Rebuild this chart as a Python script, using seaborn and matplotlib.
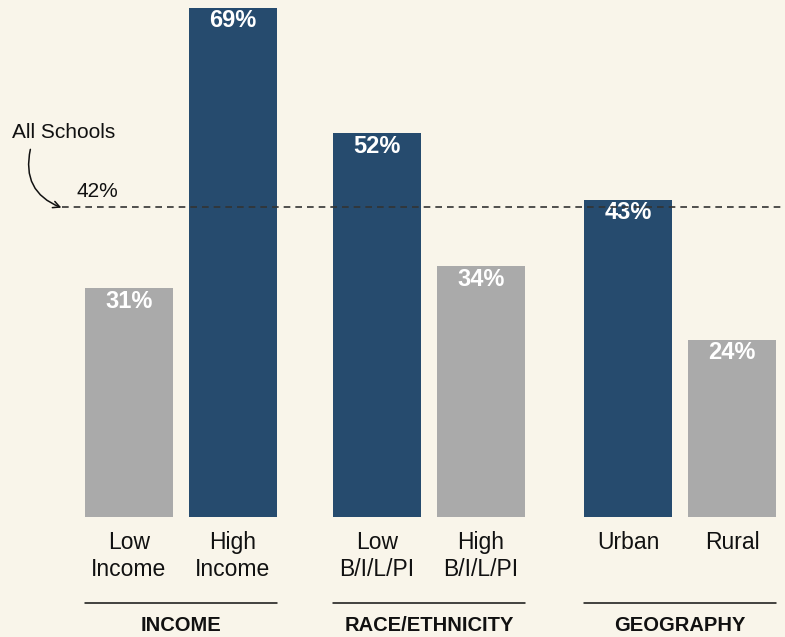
import matplotlib
matplotlib.use("Agg")
import matplotlib.pyplot as plt
import seaborn as sns
import pandas as pd

# Data
labels = ["Low\nIncome", "High\nIncome", "Low\nB/I/L/PI", "High\nB/I/L/PI", "Urban", "Rural"]
values = [31, 69, 52, 34, 43, 24]
levels = ["low", "high", "high", "low", "high", "low"]
positions = [0, 1, 2.385, 3.385, 4.798, 5.798]
groups = ["INCOME", "RACE/ETHNICITY", "GEOGRAPHY"]
all_schools = 42

bg = "#f9f5ea"
navy = "#264b6e"
grey = "#aaaaaa"

sns.set_theme(style="white")
plt.rcParams["font.family"] = ["Liberation Sans", "DejaVu Sans"]

df = pd.DataFrame({"pos": positions, "value": values, "level": levels})

fig = plt.figure(figsize=(7.85, 6.37), dpi=100, facecolor=bg)
ax = fig.add_axes([0, 120 / 637, 1, 517 / 637])
ax.set_facecolor(bg)

width = 0.846
sns.barplot(data=df, x="pos", y="value", hue="level", palette={"low": grey, "high": navy},
            native_scale=True, width=width, legend=False, ax=ax, saturation=1,
            linewidth=0)

ax.set_xlim(-1.240, 6.308)
ax.set_ylim(0, 70.08)
for s in ax.spines.values():
    s.set_visible(False)
ax.set_yticks([])
ax.set_xticks(positions)
ax.set_xticklabels(labels, fontsize=16.5, color="#111111", linespacing=1.25)
ax.tick_params(axis="x", length=0, pad=10)
ax.set_xlabel("")
ax.set_ylabel("")

# value labels
for p, v in zip(positions, values):
    ax.text(p, v - 1.75, f"{v}%", ha="center", va="center", color="white",
            fontsize=17, fontweight="bold")

# average line
ax.axhline(all_schools, xmin=62 / 785, xmax=1, color="#333333", lw=1.2,
           ls=(0, (4, 3)), zorder=5)
ax.text(-0.500, all_schools + 2.15, f"{all_schools}%", ha="left", va="center",
        fontsize=15, color="#111111")
ax.text(-1.125, 52.15, "All Schools", ha="left", va="center", fontsize=15, color="#111111")
ax.annotate("", xy=(-0.625, all_schools - 0.2), xytext=(-0.942, 50.2),
            arrowprops=dict(arrowstyle="->", color="#111111", lw=1.1,
                            connectionstyle="arc3,rad=0.45"))

# group brackets
trans = ax.get_xaxis_transform()
for i, g in enumerate(groups):
    x0 = positions[2 * i] - width / 2
    x1 = positions[2 * i + 1] + width / 2
    ax.plot([x0, x1], [-0.1663, -0.1663], transform=trans, color="#111111",
            lw=1.1, clip_on=False)
    ax.text((x0 + x1) / 2, -0.210, g, transform=trans, ha="center", va="center",
            fontsize=14.5, fontweight="bold", color="#111111")

fig.savefig("out.png", dpi=100, facecolor=bg)
